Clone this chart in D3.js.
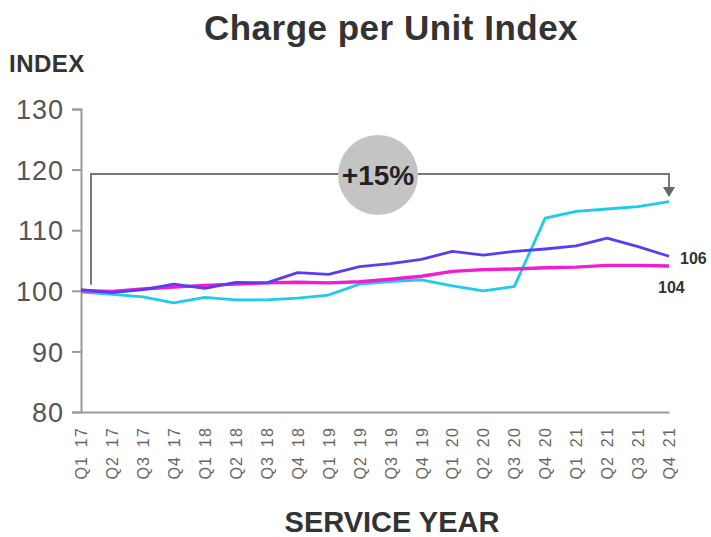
<!DOCTYPE html>
<html><head><meta charset="utf-8">
<script src="https://cdn.jsdelivr.net/npm/d3@7"></script>
<style>body{margin:0;background:#fff}svg{display:block}</style>
</head><body>
<svg id="c" width="711" height="537"></svg>
<script>
const quarters = ["Q1 17","Q2 17","Q3 17","Q4 17","Q1 18","Q2 18","Q3 18","Q4 18","Q1 19","Q2 19","Q3 19","Q4 19","Q1 20","Q2 20","Q3 20","Q4 20","Q1 21","Q2 21","Q3 21","Q4 21"];
const purpleSeries = [100.2,99.7,100.2,101.1,100.4,101.4,101.3,103.0,102.7,104.0,104.5,105.2,106.5,105.9,106.5,106.9,107.4,108.7,107.3,105.7];
const magentaSeries = [100.0,99.9,100.3,100.6,100.9,101.1,101.3,101.4,101.3,101.5,101.9,102.4,103.2,103.5,103.6,103.8,103.9,104.2,104.2,104.1];
const cyanSeries = [99.8,99.4,99.0,98.0,98.9,98.5,98.5,98.8,99.3,101.1,101.5,101.8,100.8,100.0,100.7,112.0,113.1,113.5,113.9,114.7];
const yTicks = [80,90,100,110,120,130];
const endLabels = ["106","104"];
const growthLabel = "+15%";

const FONT = "Liberation Sans, Arial, Helvetica, sans-serif";
const svg = d3.select("#c");
const x = d3.scalePoint().domain(quarters).range([81, 669]);
const y = d3.scaleLinear().domain([80,130]).range([412, 109]);
const grey = "#9a9a9a";

svg.append("text").attr("x",391).attr("y",40).attr("text-anchor","middle")
  .attr("font-family",FONT).attr("font-weight","bold")
  .attr("font-size",35).attr("letter-spacing",0.5).attr("fill","#333").text("Charge per Unit Index");
svg.append("text").attr("x",9).attr("y",72)
  .attr("font-family",FONT).attr("font-weight","bold")
  .attr("font-size",24).attr("letter-spacing",0.5).attr("fill","#333").text("INDEX");
svg.append("text").attr("x",392).attr("y",532).attr("text-anchor","middle")
  .attr("font-family",FONT).attr("font-weight","bold")
  .attr("font-size",29).attr("fill","#333").text("SERVICE YEAR");

// y axis
const ya = svg.append("g").attr("transform","translate(81,0)")
  .call(d3.axisLeft(y).tickValues(yTicks).tickSize(9).tickPadding(8).tickFormat(d3.format("d")));
ya.select(".domain").attr("stroke",grey).attr("stroke-width",2);
ya.selectAll(".tick line").attr("stroke",grey).attr("stroke-width",2);
ya.selectAll(".tick text").attr("font-family",FONT)
  .attr("font-size",27).attr("letter-spacing",1).attr("fill","#555").attr("dy","0.36em");

// x axis
const xa = svg.append("g").attr("transform","translate(0,412)")
  .call(d3.axisBottom(x).tickSize(0).tickPadding(0));
xa.select(".domain").attr("stroke",grey).attr("stroke-width",2);
xa.selectAll(".tick text").attr("font-family",FONT)
  .attr("font-size",16).attr("letter-spacing",1.2).attr("word-spacing",3).attr("fill","#666")
  .attr("transform","rotate(-90)").attr("text-anchor","end")
  .attr("x",-15).attr("y",0).attr("dy","0.35em");

// lines
const line = d3.line().x((d,i)=>x(quarters[i])).y(d=>y(d));
svg.append("path").datum(cyanSeries).attr("d",line).attr("fill","none")
  .attr("stroke","#1ecbee").attr("stroke-width",2.8).attr("stroke-linejoin","round");
svg.append("path").datum(magentaSeries).attr("d",line).attr("fill","none")
  .attr("stroke","#f21cd0").attr("stroke-width",3.4).attr("stroke-linejoin","round");
svg.append("path").datum(purpleSeries).attr("d",line).attr("fill","none")
  .attr("stroke","#5a3df2").attr("stroke-width",2.8).attr("stroke-linejoin","round");

// end labels
svg.append("text").attr("x",680).attr("y",y(purpleSeries[19])+2).attr("dy","0.36em")
  .attr("font-family",FONT).attr("font-weight","bold")
  .attr("font-size",16).attr("fill","#333").text(endLabels[0]);
svg.append("text").attr("x",658).attr("y",y(magentaSeries[19])+21).attr("dy","0.36em")
  .attr("font-family",FONT).attr("font-weight","bold")
  .attr("font-size",16).attr("fill","#333").text(endLabels[1]);

// bracket annotation
const bx0 = x(quarters[0]) + 10, bx1 = x(quarters[19]);
const by = 174;
svg.append("path").attr("d",`M${bx0},${y(101)} V${by} H${bx1} V${188}`)
  .attr("fill","none").attr("stroke","#777").attr("stroke-width",2);
svg.append("path").attr("d",`M${bx1-6},${187} L${bx1+6},${187} L${bx1},${197} Z`).attr("fill","#666");
svg.append("circle").attr("cx",378).attr("cy",175).attr("r",40).attr("fill","#c4c4c4");
svg.append("text").attr("x",378).attr("y",175).attr("dy","0.36em").attr("text-anchor","middle")
  .attr("font-family",FONT).attr("font-weight","bold")
  .attr("font-size",28).attr("fill","#222").text(growthLabel);
</script>
</body></html>
